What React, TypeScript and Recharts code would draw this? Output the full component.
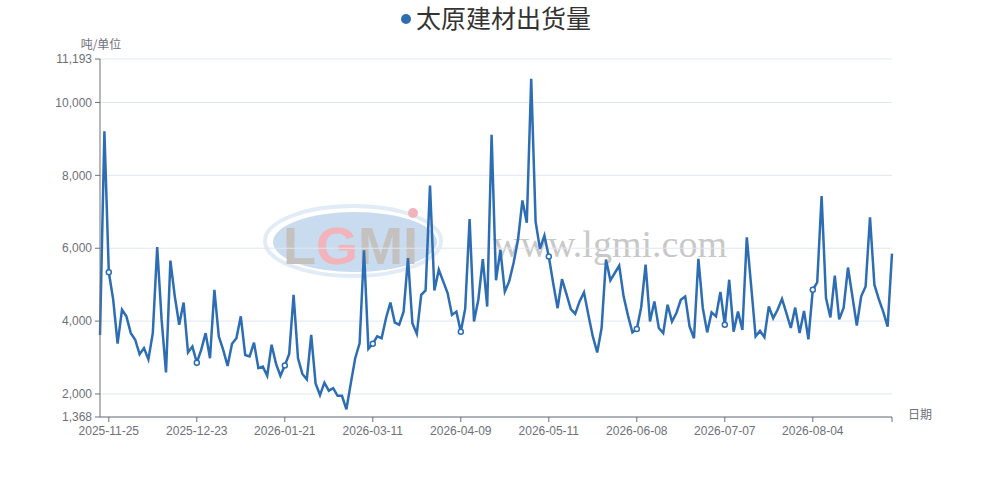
import React from 'react';
import { LineChart, Line, XAxis, YAxis, CartesianGrid } from 'recharts';

// 太原建材出货量 (吨), one value per trading day
const shipment = [
  3620, 9210, 5340, 4590, 3380, 4310, 4130, 3670, 3490, 3090,
  3260, 2950, 3670, 6030, 4040, 2590, 5660, 4680, 3900, 4510,
  3140, 3300, 2860, 3210, 3670, 2980, 4860, 3580, 3210, 2770,
  3380, 3530, 4130, 3070, 3030, 3410, 2710, 2750, 2500, 3350,
  2830, 2500, 2780, 3100, 4720, 2980, 2550, 2400, 3620, 2290,
  1970, 2310, 2090, 2160, 1950, 1950, 1580, 2290, 2980, 3390,
  5940, 3240, 3380, 3580, 3530, 4080, 4510, 3960, 3900, 4260,
  5730, 3940, 3650, 4720, 4840, 7720, 4840, 5410, 5090, 4770,
  4170, 4260, 3710, 4340, 6800, 3990, 4600, 5700, 4400, 9110,
  5120, 5950, 4810, 5090, 5600, 6230, 7310, 6700, 10650, 6730,
  5980, 6345, 5770, 5040, 4355, 5150, 4750, 4330, 4200, 4540,
  4790, 4170, 3580, 3140, 3810, 5690, 5120, 5320, 5520, 4680,
  4150, 3690, 3780, 4380, 5550, 3990, 4540, 3810, 3670, 4450,
  3990, 4220, 4585, 4676, 3850, 3530, 5710, 4360, 3690, 4240,
  4130, 4800, 3900, 5135, 3710, 4260, 3760, 6300, 4950, 3580,
  3730, 3560, 4400, 4080, 4310, 4610, 4220, 3810, 4370, 3670,
  4280, 3500, 4860, 5060, 7430, 4630, 4100, 5245, 4050, 4360,
  5470, 4680, 3880, 4680, 4950, 6850, 5000, 4600, 4260, 3850,
  5850,
];

// positions (point index) and text of the date labels on the x axis
const labelIdx = [2, 22, 42, 62, 82, 102, 122, 142, 162];
const labelDates = [
  '2025-11-25', '2025-12-23', '2026-01-21', '2026-03-11', '2026-04-09',
  '2026-05-11', '2026-06-08', '2026-07-07', '2026-08-04',
];
const yTicks = [1368, 2000, 4000, 6000, 8000, 10000, 11193];

const data = shipment.map((v, i) => ({ i, v }));
const lastIdx = shipment.length - 1;

const axisColor = '#6E7079';
const lineColor = '#2d6db3';
const font = '"Microsoft YaHei", "Noto Sans CJK SC", sans-serif';
const tickFont = '"Liberation Sans", Arial, sans-serif';

const fmtX = (i: number) => {
  const k = labelIdx.indexOf(i);
  return k >= 0 ? labelDates[k] : '';
};

const LabelDot = (p: any) =>
  labelIdx.includes(p.index) ? (
    <circle key={p.index} cx={p.cx} cy={p.cy} r={2.5} fill='#fff' stroke={lineColor} strokeWidth={1.5} />
  ) : (
    <g key={p.index} />
  );

export default function App() {
  return (
    <div style={{ position: 'absolute', left: 0, top: 0, width: 992, height: 487, background: '#fff', fontFamily: font }}>
      {/* watermark and axis names sit under the chart */}
      <svg width={992} height={487} style={{ position: 'absolute', left: 0, top: 0 }}>
        <ellipse cx={353} cy={241} rx={88} ry={35} fill='none' stroke='#e2ecf7' strokeWidth={4} />
        <ellipse cx={355} cy={242} rx={82} ry={30} fill='#c8dbef' />
        <text x={283} y={264} fontSize={52} fontWeight='bold' fontFamily='"Liberation Sans", Arial, sans-serif' textLength={135} lengthAdjust='spacingAndGlyphs'>
          <tspan fill='#c5c1be'>L</tspan>
          <tspan fill='#f2b3ba'>G</tspan>
          <tspan fill='#c5c1be'>MI</tspan>
        </text>
        <circle cx={413} cy={213} r={5} fill='#f2b3ba' />
        <text x={493} y={257} fontSize={38} fill='#c8c8c8' fontFamily='"Liberation Serif", serif' textLength={234} lengthAdjust='spacingAndGlyphs'>
          www.lgmi.com
        </text>
        <text x={101} y={49} fontSize={12} fill={axisColor} textAnchor='middle'>吨/单位</text>
        <text x={908} y={419} fontSize={12} fill={axisColor}>日期</text>
      </svg>

      <div style={{ position: 'absolute', left: 0, top: 0 }}>
        <LineChart width={992} height={487} data={data} margin={{ top: 59, right: 100, bottom: 40, left: 0 }}>
          <CartesianGrid vertical={false} stroke='#E0E6F1' />
          <XAxis
            dataKey='i'
            type='number'
            domain={[0, lastIdx]}
            ticks={[...labelIdx, lastIdx]}
            interval={0}
            height={30}
            tickFormatter={fmtX}
            tickSize={5}
            tickMargin={4}
            stroke={axisColor}
            tick={{ fill: axisColor, fontSize: 12, fontFamily: tickFont }}
          />
          <YAxis
            domain={[1368, 11193]}
            ticks={yTicks}
            interval={0}
            width={100}
            tickSize={5}
            tickMargin={3}
            stroke={axisColor}
            tick={{ fill: axisColor, fontSize: 12, fontFamily: tickFont }}
            tickFormatter={(v: number) => v.toLocaleString('en-US')}
          />
          <Line
            dataKey='v'
            type='linear'
            stroke={lineColor}
            strokeWidth={2.5}
            dot={LabelDot}
            activeDot={false}
            isAnimationActive={false}
          />
        </LineChart>
      </div>

      <div style={{ position: 'absolute', left: 0, top: 3, width: 992, textAlign: 'center', fontSize: 25, lineHeight: '28px', color: '#333' }}>
        <span style={{ display: 'inline-block', width: 10, height: 10, borderRadius: 5, background: lineColor, marginRight: 5, verticalAlign: 'middle', position: 'relative', top: -2 }} />
        太原建材出货量
      </div>
    </div>
  );
}
